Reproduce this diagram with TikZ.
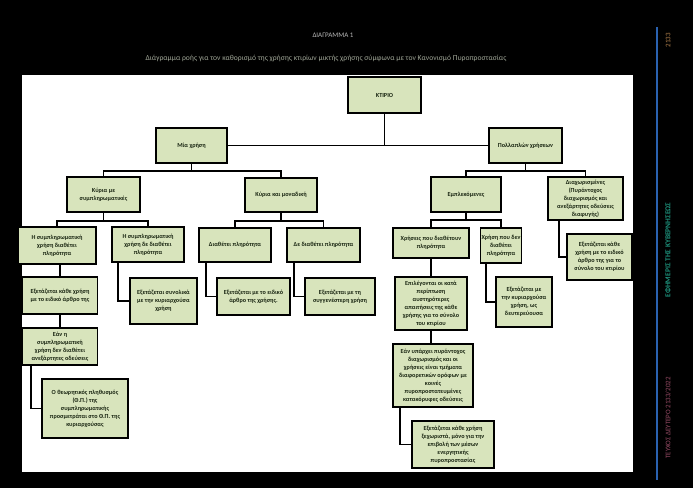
\documentclass[tikz,border=0pt]{standalone}
\usepackage{fontspec}
\newfontfamily\carl{Carlito}
\definecolor{boxgreen}{HTML}{D8E4BC}
\definecolor{boxtext}{HTML}{1A2612}
\definecolor{sideblue}{HTML}{2A62B0}
\definecolor{subgrey}{HTML}{9FA596}
\begin{document}
\begin{tikzpicture}[x=1pt,y=-1pt,
  bx/.style={draw=black, line width=1.6pt, fill=boxgreen, align=center,
    font={\carl\bfseries\fontsize{6.2}{8}\selectfont}, text=boxtext, inner sep=1pt},
  conn/.style={draw=black, line width=1.6pt},
  ttl/.style={font={\carl\fontsize{7}{8}\selectfont}, text=gray!55}]
\fill[black] (0,0) rectangle (693,488);
\useasboundingbox (0,0) rectangle (693,488);
\fill[white] (22,75) rectangle (633,472);
% titles
\node[ttl] (t1) at (333,35) {ΔΙΑΓΡΑΜΜΑ 1};
\node[ttl, font={\carl\fontsize{7.6}{8}\selectfont}, text=subgrey] (t2) at (326,58) {Διάγραμμα ροής για τον καθορισμό της χρήσης κτιρίων μικτής χρήσης σύμφωνα με τον Κανονισμό Πυροπροστασίας};
% side band
\draw[sideblue, line width=1.2pt] (657,27) -- (657,480);
\node[ttl, rotate=90, text=gray!60!orange] (s1) at (668,40) {2133};
\node[font={\carl\bfseries\fontsize{7.5}{8}\selectfont}, text=sideblue!70!green, rotate=90] (s2) at (668,250) {ΕΦΗΜΕΡΙΣ ΤΗΣ ΚΥΒΕΡΝΗΣΕΩΣ};
\node[ttl, rotate=90, text=gray!60!purple] (s3) at (668,418) {ΤΕΥΧΟΣ ΔΕΥΤΕΡΟ 2133/2022};
% boxes
\node[bx, minimum width=73, minimum height=36] (A) at (384.5,95) {ΚΤΙΡΙΟ};
\node[bx, minimum width=71, minimum height=35] (B) at (191.5,145.5) {Μία χρήση};
\node[bx, minimum width=73, minimum height=35] (C) at (525.5,145.5) {Πολλαπλών χρήσεων};
\node[bx, minimum width=73, minimum height=35] (D) at (103.5,194.5) {Κύρια με\\συμπληρωματικές};
\node[bx, minimum width=72, minimum height=34] (E) at (281,195) {Κύρια και μοναδική};
\node[bx, minimum width=78, minimum height=37] (F) at (57,245.5) {Η συμπληρωματική\\χρήση διαθέτει\\πληρότητα};
\node[bx, minimum width=72, minimum height=35] (G) at (148,244.5) {Η συμπληρωματική\\χρήση δε διαθέτει\\πληρότητα};
\node[bx, minimum width=72, minimum height=34] (H) at (235,245) {Διαθέτει πληρότητα};
\node[bx, minimum width=73, minimum height=34] (I) at (323.5,245) {Δε διαθέτει πληρότητα};
\node[bx, minimum width=75, minimum height=37] (J) at (60,295.5) {Εξετάζεται κάθε χρήση\\με το ειδικό άρθρο της};
\node[bx, minimum width=67, minimum height=46] (K) at (163.5,301) {Εξετάζεται συνολικά\\με την κυριαρχούσα\\χρήση};
\node[bx, minimum width=73, minimum height=37] (L) at (253.5,296.5) {Εξετάζεται με το ειδικό\\άρθρο της χρήσης.};
\node[bx, minimum width=70, minimum height=37] (M) at (340,296.5) {Εξετάζεται με τη\\συγγενέστερη χρήση};
\node[bx, minimum width=75, minimum height=37] (N) at (60,346.5) {Εάν η\\συμπληρωματική\\χρήση δεν διαθέτει\\ανεξάρτητες οδεύσεις};
\node[bx, minimum width=86, minimum height=59] (O) at (85,408.5) {Ο θεωρητικός πληθυσμός\\(Θ.Π.) της\\συμπληρωματικής\\προσμετράται στο Θ.Π. της\\κυριαρχούσας};
\node[bx, minimum width=70, minimum height=35] (P) at (466,194.5) {Εμπλεκόμενες};
\node[bx, minimum width=75, minimum height=43] (Q) at (585.5,198.5) {Διαχωρισμένες\\(Πυράντοχος\\διαχωρισμός και\\ανεξάρτητες οδεύσεις\\διαφυγής)};
\node[bx, minimum width=76, minimum height=30] (R) at (431,243) {Χρήσεις που διαθέτουν\\πληρότητα};
\node[bx, minimum width=38, minimum height=35] (S) at (501,245.5) {Χρήση που δεν\\διαθέτει\\πληρότητα};
\node[bx, minimum width=56, minimum height=50] (T) at (524,302) {Εξετάζεται με\\την κυριαρχούσα\\χρήση, ως\\δευτερεύουσα};
\node[bx, minimum width=65, minimum height=46] (U) at (599.5,257) {Εξετάζεται κάθε\\χρήση με το ειδικό\\άρθρο της για το\\σύνολο του κτιρίου};
\node[bx, minimum width=72, minimum height=53] (V) at (431,303.5) {Επιλέγονται οι κατά\\περίπτωση\\αυστηρότερες\\απαιτήσεις της κάθε\\χρήσης για το σύνολο\\του κτιρίου};
\node[bx, minimum width=80, minimum height=63] (W) at (433,375.5) {Εάν υπάρχει πυράντοχος\\διαχωρισμός και οι\\χρήσεις είναι τμήματα\\διαφορετικών ορόφων με\\κοινές\\πυροπροστατευμένες\\κατακόρυφες οδεύσεις};
\node[bx, minimum width=82, minimum height=47] (X) at (453,444.5) {Εξετάζεται κάθε χρήση\\ξεχωριστά, μόνο για την\\επιβολή των μέσων\\ενεργητικής\\πυροπροστασίας};
% junctions
\coordinate (jA) at (384.5,145.5);
\coordinate (jB) at (191.5,171);
\coordinate (jC) at (525.5,171);
\coordinate (jD) at (103.5,221);
\coordinate (jE) at (281,221);
\coordinate (jP) at (466,220);
% connectors
\draw[conn] (A.south) -- (jA);
\draw[conn] (B.east) -- (C.west);
\draw[conn] (B.south) -- (jB);
\draw[conn] (D.north) |- (jB) -| (E.north);
\draw[conn] (C.south) -- (jC);
\draw[conn] (P.north) |- (jC) -| (Q.north);
\draw[conn] (D.south) -- (jD);
\draw[conn] (F.north) |- (jD) -| (G.north);
\draw[conn] (E.south) -- (jE);
\draw[conn] (H.north) |- (jE) -| (I.north);
\draw[conn] (P.south) -- (jP);
\draw[conn] (R.north) |- (jP) -| (S.north);
\draw[conn] (J.north) -- (J.north |- F.south);
\draw[conn] ([xshift=7pt]G.south west) |- (K.west);
\draw[conn] ([xshift=8pt]H.south west) |- (L.west);
\draw[conn] ([xshift=8pt]I.south west) |- (M.west);
\draw[conn] (J.south) -- (N.north);
\draw[conn] ([xshift=9pt]N.south west) |- (O.west);
\draw[conn] ([xshift=12pt]Q.south west) |- (U.west);
\draw[conn] (R.south) -- (V.north);
\draw[conn] ([xshift=6pt]S.south west) |- (T.west);
\draw[conn] (V.south) -- (V.south |- W.north);
\draw[conn] ([xshift=8pt]W.south west) |- (X.west);
\end{tikzpicture}
\end{document}
